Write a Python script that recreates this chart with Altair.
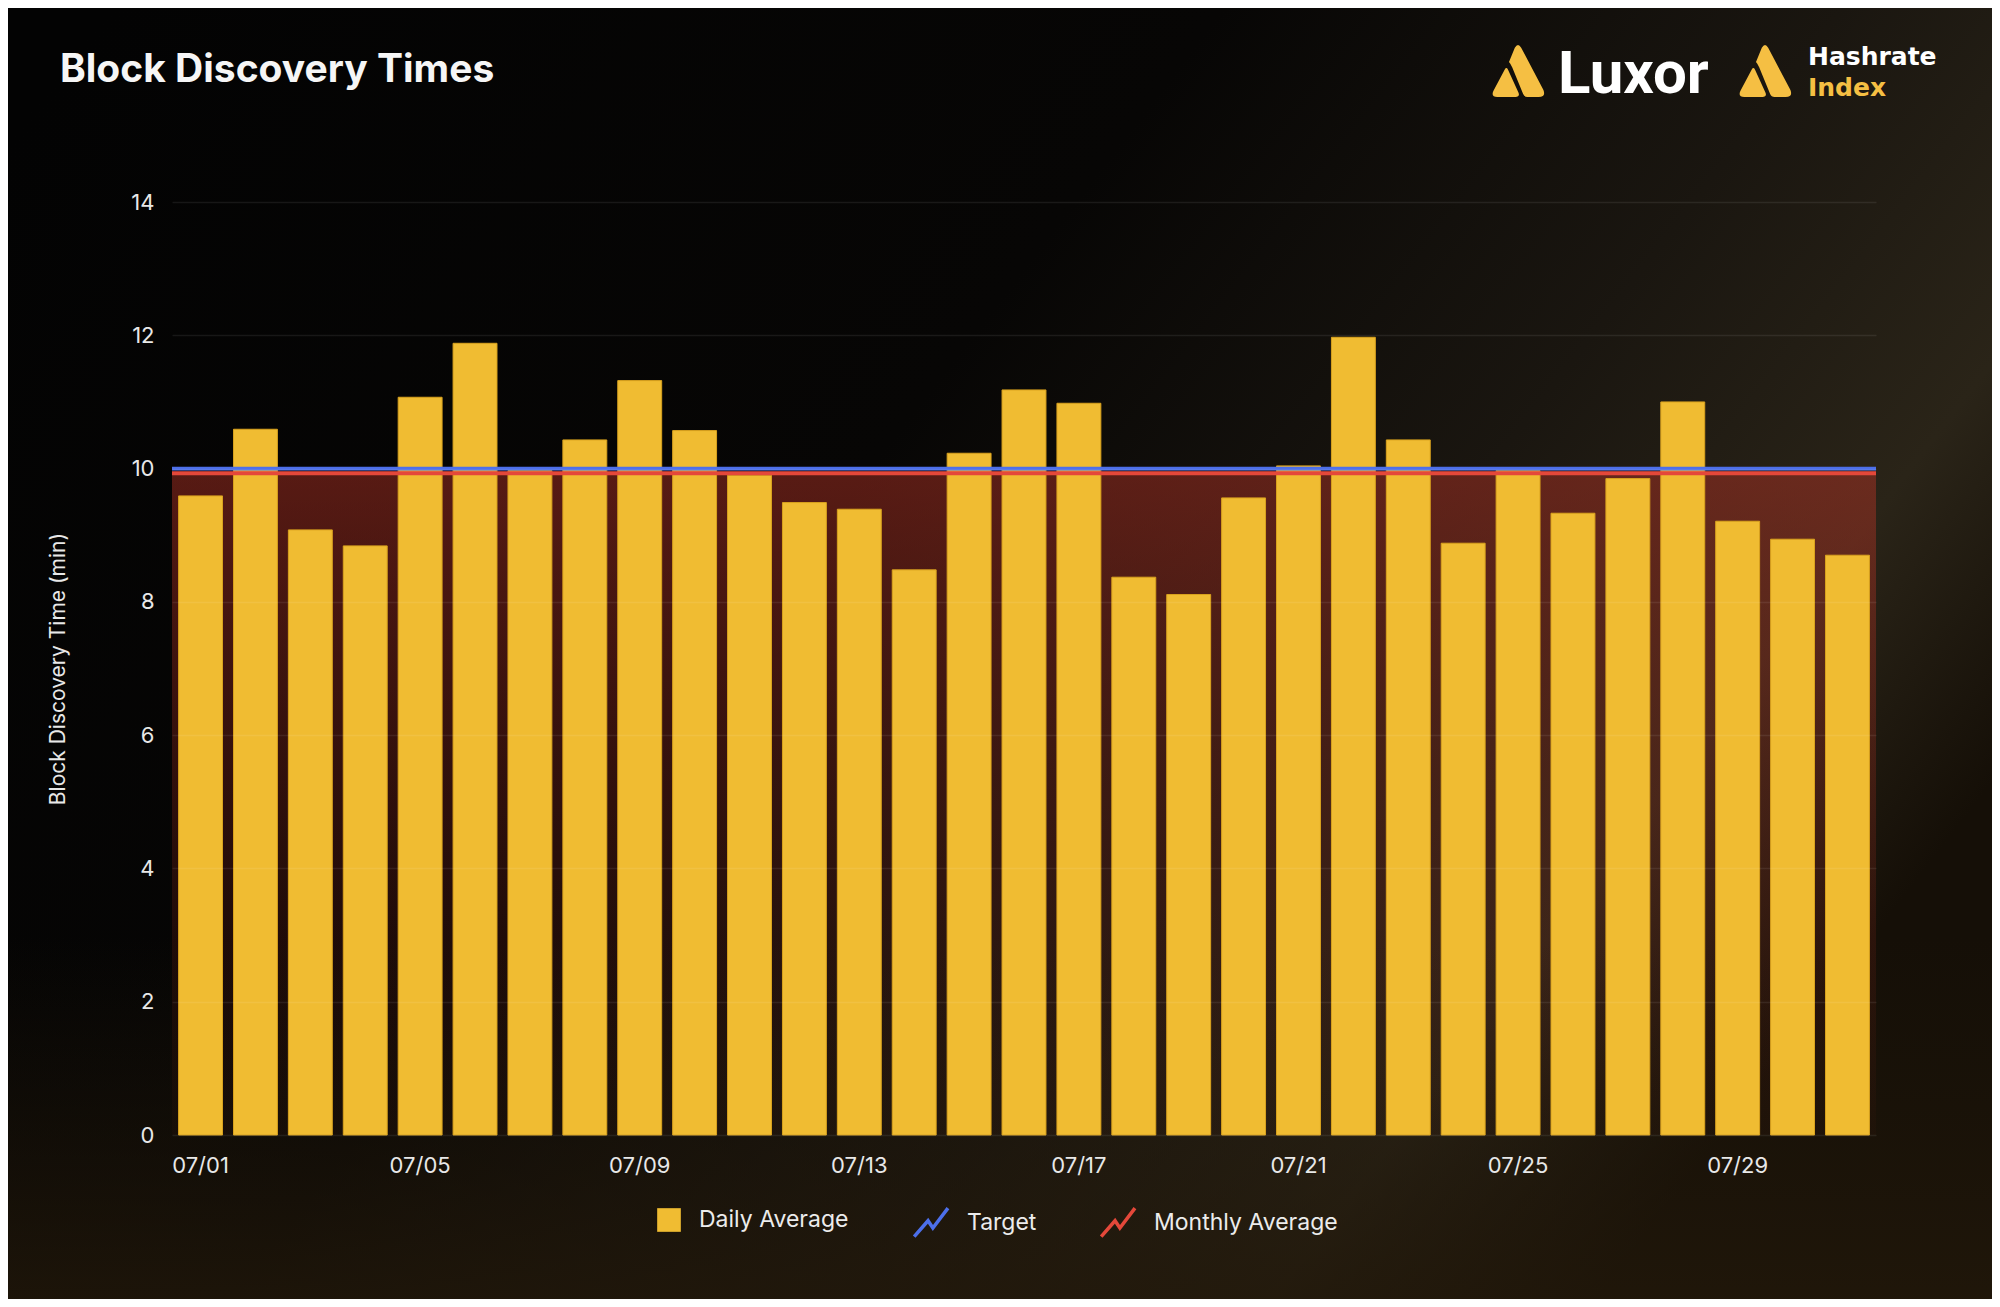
import altair as alt
import pandas as pd

# ---------------- data ----------------
dates = ["07/01", "07/02", "07/03", "07/04", "07/05", "07/06", "07/07", "07/08",
         "07/09", "07/10", "07/11", "07/12", "07/13", "07/14", "07/15", "07/16",
         "07/17", "07/18", "07/19", "07/20", "07/21", "07/22", "07/23", "07/24",
         "07/25", "07/26", "07/27", "07/28", "07/29", "07/30", "07/31"]
daily_avg = [9.59, 10.59, 9.08, 8.84, 11.07, 11.88, 9.97, 10.43,
             11.32, 10.57, 9.90, 9.49, 9.39, 8.48, 10.23, 11.18,
             10.98, 8.37, 8.11, 9.56, 10.04, 11.97, 10.43, 8.88,
             9.97, 9.33, 9.85, 11.00, 9.21, 8.94, 8.70]
line_names = ["Target", "Monthly Average"]
line_values = [10.0, 9.93]
bar_name = ["Daily Average"]
bar_color = ["#F0BC32"]
line_colors = ["#4C6FEA", "#E4483A"]
y_ticks = [0, 2, 4, 6, 8, 10, 12, 14]
x_ticks = ["07/01", "07/05", "07/09", "07/13", "07/17", "07/21", "07/25", "07/29"]

# ---------------- layout ----------------
W, H = 1704, 933          # plot area
L, T = 164, 194           # plot offset inside canvas
CW, CH = 1984, 1291       # full canvas

bars_df = pd.DataFrame({"date": dates, "value": daily_avg,
                        "bar_series": bar_name * len(dates)})
lines_df = pd.DataFrame({"line_series": line_names, "value": line_values})
avg_df = pd.DataFrame({"value": [line_values[1]]})
one = pd.DataFrame({"k": [0]})

FONT = "Inter"
ZIGZAG = "M-1,0.8 L-0.2,-0.12 L0.08,0.3 L0.95,-0.85"
ICON = ("M-0.12,-0.88 Q0,-1.08 0.12,-0.88 L0.96,0.72 Q1.06,0.98 0.78,0.98 "
        "L0.36,0.98 Q0.24,0.98 0.19,0.86 L-0.22,-0.14 Q-0.3,-0.3 -0.34,-0.34 Z "
        "M-0.5,-0.06 Q-0.44,-0.16 -0.38,-0.06 L0.02,0.82 Q0.08,0.98 -0.1,0.98 "
        "L-0.78,0.98 Q-1.04,0.98 -0.92,0.74 Z")

bg_grad = {"gradient": "linear", "x1": 0, "y1": 0.1, "x2": 1, "y2": 0.6,
           "stops": [{"offset": 0, "color": "#030303"},
                     {"offset": 0.45, "color": "#070605"},
                     {"offset": 0.7, "color": "#1a1610"},
                     {"offset": 0.87, "color": "#2a2418"},
                     {"offset": 1, "color": "#150f07"}]}
bg_grad2 = {"gradient": "linear", "x1": 0, "y1": 0, "x2": 0, "y2": 1,
            "stops": [{"offset": 0, "color": "rgba(30,22,10,0)"},
                      {"offset": 0.72, "color": "rgba(30,22,10,0)"},
                      {"offset": 1, "color": "rgba(34,24,10,0.8)"}]}
red_grad = {"gradient": "linear", "x1": 0, "y1": 0, "x2": 0, "y2": 1,
            "stops": [{"offset": 0, "color": "rgba(185,52,38,0.46)"},
                      {"offset": 1, "color": "rgba(150,40,28,0.04)"}]}

background = alt.Chart(one).mark_rect(fill=bg_grad).encode(
    x=alt.value(-L), x2=alt.value(CW - L), y=alt.value(-T), y2=alt.value(CH - T))
background2 = alt.Chart(one).mark_rect(fill=bg_grad2).encode(
    x=alt.value(-L), x2=alt.value(CW - L), y=alt.value(-T), y2=alt.value(CH - T))

y_scale = alt.Scale(domain=[0, 14], nice=False, zero=True)

red_area = alt.Chart(avg_df).mark_rect(fill=red_grad).encode(
    x=alt.value(0), x2=alt.value(W),
    y=alt.Y("value:Q", scale=y_scale),
    y2=alt.datum(0))

bar_legend = alt.Legend(
    title=None, orient="none", direction="horizontal",
    legendX=485, legendY=1006, padding=0,
    labelFont=FONT, labelFontSize=23, labelColor="#ececec", labelLimit=400,
    labelOffset=18, symbolType="square", symbolSize=560,
    symbolStrokeWidth=0, symbolOpacity=1)

line_legend = alt.Legend(
    title=None, orient="none", direction="horizontal",
    legendX=740, legendY=1001, padding=0,
    labelFont=FONT, labelFontSize=23, labelColor="#ececec", labelLimit=400,
    labelOffset=16, columnPadding=57, symbolType=ZIGZAG, symbolSize=1200,
    symbolStrokeWidth=3.5, symbolOpacity=1)

x_axis = alt.Axis(values=x_ticks, title=None, labelAngle=0, labelPadding=20,
                  grid=False, domain=False, ticks=False, zindex=2,
                  labelFont=FONT, labelFontSize=22, labelColor="#e8e8e8")
y_axis = alt.Axis(values=y_ticks, format="d", title="Block Discovery Time (min)",
                  labelPadding=18, titlePadding=62, grid=True, domain=False,
                  ticks=False, zindex=2,
                  labelFont=FONT, labelFontSize=22, labelColor="#e8e8e8",
                  titleFont=FONT, titleFontSize=21, titleFontWeight="normal",
                  titleColor="#e8e8e8", gridColor="#ffffff", gridOpacity=0.08,
                  gridWidth=1.5)

bars = alt.Chart(bars_df).mark_bar(stroke="#d9a21e", strokeWidth=1).encode(
    x=alt.X("date:N",
            scale=alt.Scale(domain=dates, paddingInner=0.2, paddingOuter=0.12),
            axis=x_axis),
    y=alt.Y("value:Q", scale=y_scale, axis=y_axis),
    color=alt.Color("bar_series:N",
                    scale=alt.Scale(domain=bar_name, range=bar_color),
                    legend=bar_legend))

rules = alt.Chart(lines_df).mark_rule(strokeWidth=3.8).encode(
    y=alt.Y("value:Q", scale=y_scale),
    stroke=alt.Stroke("line_series:N",
                      scale=alt.Scale(domain=line_names, range=line_colors),
                      legend=line_legend))

title = alt.Chart(one).mark_text(
    text="Block Discovery Times", font=FONT, fontSize=39, fontWeight=700,
    color="#f6f6f6", align="left", baseline="alphabetic").encode(
    x=alt.value(-112), y=alt.value(-120))

icon1 = alt.Chart(one).mark_point(
    shape=ICON, filled=True, fill="#F5BF43", size=2809, opacity=1,
    strokeWidth=0).encode(x=alt.value(1346), y=alt.value(-131))
icon2 = alt.Chart(one).mark_point(
    shape=ICON, filled=True, fill="#F5BF43", size=2809, opacity=1,
    strokeWidth=0).encode(x=alt.value(1593), y=alt.value(-131))
luxor = alt.Chart(one).mark_text(
    text="Luxor", font="Roboto", fontSize=60, fontWeight=700, color="#ffffff",
    align="left", baseline="alphabetic").encode(
    x=alt.value(1386), y=alt.value(-109))
hashrate = alt.Chart(one).mark_text(
    text="Hashrate", font="DejaVu Sans", fontSize=25, fontWeight=700,
    color="#ffffff", align="left", baseline="alphabetic").encode(
    x=alt.value(1636), y=alt.value(-137))
index_t = alt.Chart(one).mark_text(
    text="Index", font="DejaVu Sans", fontSize=25, fontWeight=700,
    color="#F5BF43", align="left", baseline="alphabetic").encode(
    x=alt.value(1636), y=alt.value(-106))

chart = alt.layer(
    background, background2, red_area, bars, rules,
    title, icon1, icon2, luxor, hashrate, index_t
).resolve_scale(
    color="independent", stroke="independent"
).properties(
    width=W, height=H, padding=0, background="#050403"
).configure_view(
    stroke=None
)

chart.save("out.html", embed_options={"renderer": "svg", "actions": False})
